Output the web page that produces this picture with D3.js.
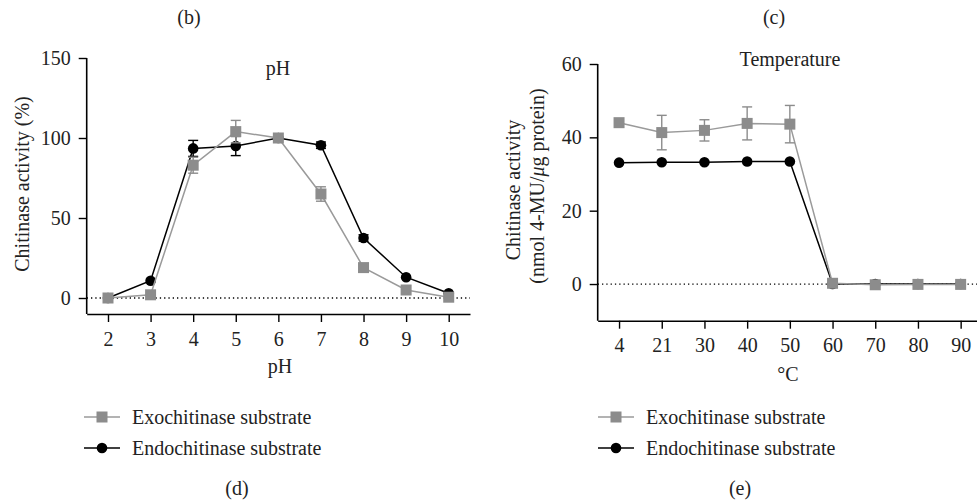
<!DOCTYPE html>
<html>
<head>
<meta charset="utf-8">
<script src="https://cdn.jsdelivr.net/npm/d3@7"></script>
<style>
  body { margin: 0; background: #fff; }
</style>
</head>
<body>
<script>
// pH panel data
var phValues = [2, 3, 4, 5, 6, 7, 8, 9, 10];
var phExo = [0, 2, 83, 104, 100, 65, 19, 5, 0.5];
var phExoErr = [0.5, 0.5, 5, 7, 0.5, 4.5, 1.5, 1, 0.5];
var phEndo = [0, 10.8, 93.5, 95, 100, 95.5, 37.5, 13, 3];
var phEndoErr = [0.5, 0.8, 5, 6, 0.5, 2, 2, 1, 0.5];
var phYTicks = [0, 50, 100, 150];

// temperature panel data
var temps = ["4", "21", "30", "40", "50", "60", "70", "80", "90"];
var tempExo = [44, 41.3, 41.9, 43.8, 43.6, 0.2, -0.2, -0.1, -0.1];
var tempExoErr = [0.5, 4.7, 2.9, 4.5, 5.1, 0.2, 0.1, 0.1, 0.1];
var tempEndo = [33.1, 33.2, 33.2, 33.4, 33.4, 0, 0, 0, 0];
var tempEndoErr = [0.3, 0.3, 0.3, 0.3, 0.3, 0.1, 0.1, 0.1, 0.1];
var tempYTicks = [0, 20, 40, 60];

var seriesNames = ["Exochitinase substrate", "Endochitinase substrate"];

var width = 977;
var height = 501;
var grey = "#8c8c8c";
var greyLine = "#9a9a9a";
var fontSize = "20px";
var font = "Liberation Serif";

var svg = d3.select("body")
    .append("svg")
    .attr("width", width)
    .attr("height", height);

function drawPanel(opt) {
    var g = svg.append("g");

    var x = opt.x;
    var y = opt.y;

    // dotted zero line
    g.append("line")
        .attr("x1", x.range()[0])
        .attr("x2", x.range()[1])
        .attr("y1", y(0))
        .attr("y2", y(0))
        .attr("stroke", "#000")
        .attr("stroke-width", 1.3)
        .attr("stroke-dasharray", "1.3,3");

    var leftAxis = d3.axisLeft(y)
        .tickValues(opt.yTicks)
        .tickSize(8)
        .tickPadding(8)
        .tickSizeOuter(0);
    var ya = g.append("g")
        .attr("transform", "translate(" + x.range()[0] + ",0)")
        .call(leftAxis);
    ya.select(".domain").attr("stroke-width", 1.6).attr("d", "M0," + y.range()[0] + "V" + y(opt.yTicks[opt.yTicks.length - 1]));
    ya.selectAll(".tick line").attr("stroke-width", 1.4);
    ya.selectAll("text").style("font-size", fontSize).style("font-family", font).attr("fill", "#222");

    var bottomAxis = opt.xAxis.tickSize(8).tickPadding(9.5).tickSizeOuter(0);
    var xa = g.append("g")
        .attr("transform", "translate(0," + y.range()[0] + ")")
        .call(bottomAxis);
    xa.select(".domain").attr("stroke-width", 1.6);
    xa.selectAll(".tick line").attr("stroke-width", 1.4);
    xa.selectAll("text").style("font-size", fontSize).style("font-family", font).attr("fill", "#222");

    // series: endo first (black), exo on top (grey)
    var series = [
        { vals: opt.endo, err: opt.endoErr, color: "#000", line: "#000", shape: "circle" },
        { vals: opt.exo, err: opt.exoErr, color: grey, line: greyLine, shape: "square" }
    ];

    series.forEach((s) => {
        var pts = opt.cats.map((c, i) => ({ c: c, v: s.vals[i], e: s.err[i] }));

        var line = d3.line()
            .x((d) => x(d.c))
            .y((d) => y(d.v));
        g.append("path")
            .datum(pts)
            .attr("d", line)
            .attr("fill", "none")
            .attr("stroke", s.line)
            .attr("stroke-width", 1.5);

        var eb = g.append("g").selectAll("g")
            .data(pts.filter((d) => (y(d.v - d.e) - y(d.v + d.e)) > 6))
            .enter()
            .append("g")
            .attr("stroke", s.color)
            .attr("stroke-width", 1.4);
        eb.append("line")
            .attr("x1", (d) => x(d.c)).attr("x2", (d) => x(d.c))
            .attr("y1", (d) => y(d.v - d.e)).attr("y2", (d) => y(d.v + d.e));
        eb.append("line")
            .attr("x1", (d) => x(d.c) - 5).attr("x2", (d) => x(d.c) + 5)
            .attr("y1", (d) => y(d.v + d.e)).attr("y2", (d) => y(d.v + d.e));
        eb.append("line")
            .attr("x1", (d) => x(d.c) - 5).attr("x2", (d) => x(d.c) + 5)
            .attr("y1", (d) => y(d.v - d.e)).attr("y2", (d) => y(d.v - d.e));

        if (s.shape == "circle") {
            g.append("g").selectAll("circle")
                .data(pts)
                .enter()
                .append("circle")
                .attr("cx", (d) => x(d.c))
                .attr("cy", (d) => y(d.v))
                .attr("r", 5.3)
                .attr("fill", s.color);
        } else {
            g.append("g").selectAll("rect")
                .data(pts)
                .enter()
                .append("rect")
                .attr("x", (d) => x(d.c) - 5.5)
                .attr("y", (d) => y(d.v) - 5.5)
                .attr("width", 11)
                .attr("height", 11)
                .attr("fill", s.color);
        }
    });

    // legend
    var lg = g.append("g").attr("transform", "translate(" + opt.legendX + ",0)");
    var rows = [
        { name: seriesNames[0], color: grey, line: greyLine, shape: "square", y: 417 },
        { name: seriesNames[1], color: "#000", line: "#000", shape: "circle", y: 448 }
    ];
    rows.forEach((r) => {
        lg.append("line")
            .attr("x1", 0).attr("x2", 36)
            .attr("y1", r.y).attr("y2", r.y)
            .attr("stroke", r.line)
            .attr("stroke-width", 1.5);
        if (r.shape == "circle") {
            lg.append("circle").attr("cx", 18).attr("cy", r.y).attr("r", 5.3).attr("fill", r.color);
        } else {
            lg.append("rect").attr("x", 12.5).attr("y", r.y - 5.5).attr("width", 11).attr("height", 11).attr("fill", r.color);
        }
        lg.append("text")
            .attr("x", 48)
            .attr("y", r.y)
            .attr("dy", "0.35em")
            .attr("fill", "#222")
            .style("font-size", fontSize)
            .style("font-family", font)
            .text(r.name);
    });
}

// pH panel
var xPh = d3.scaleLinear().domain([1.5, 10.5]).range([86.7, 470]);
var yPh = d3.scaleLinear().domain([-10, 150]).range([314, 58]);
drawPanel({
    x: xPh, y: yPh, cats: phValues,
    exo: phExo, exoErr: phExoErr, endo: phEndo, endoErr: phEndoErr,
    yTicks: phYTicks,
    xAxis: d3.axisBottom(xPh).tickValues(phValues).tickFormat(d3.format("d")),
    legendX: 84
});

// temperature panel
var xT = d3.scalePoint().domain(temps).range([597.7, 982]).padding(0.5);
var yT = d3.scaleLinear().domain([-10, 60]).range([320.7, 64]);
drawPanel({
    x: xT, y: yT, cats: temps,
    exo: tempExo, exoErr: tempExoErr, endo: tempEndo, endoErr: tempEndoErr,
    yTicks: tempYTicks,
    xAxis: d3.axisBottom(xT),
    legendX: 598
});

// titles and labels
function label(txt, x, y, rot) {
    var t = svg.append("text")
        .attr("text-anchor", "middle")
        .attr("dy", "0.35em")
        .attr("fill", "#222")
        .style("font-size", fontSize)
        .style("font-family", font);
    if (rot) {
        t.attr("transform", "translate(" + x + "," + y + ") rotate(-90)");
    } else {
        t.attr("x", x).attr("y", y);
    }
    t.text(txt);
    return t;
}

label("(b)", 189, 17);
label("(c)", 774, 17);
label("pH", 278, 68);
label("Temperature", 790, 59);
label("pH", 280, 366);
label("°C", 788, 374);
label("(d)", 237, 488);
label("(e)", 740, 488);
label("Chitinase activity (%)", 22, 184, true);
label("Chitinase activity", 513, 190, true);

var yt2 = svg.append("text")
    .attr("text-anchor", "middle")
    .attr("dy", "0.35em")
    .attr("fill", "#222")
    .attr("transform", "translate(537,186) rotate(-90)")
    .style("font-size", fontSize)
    .style("font-family", font);
yt2.append("tspan").text("(nmol 4-MU/");
yt2.append("tspan").style("font-style", "italic").text("μ");
yt2.append("tspan").text("g protein)");
</script>
</body>
</html>
